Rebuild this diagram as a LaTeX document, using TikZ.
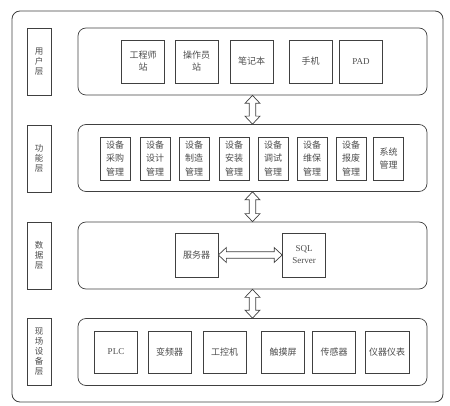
\documentclass[tikz,border=0pt]{standalone}
\usepackage{fontspec}
\setmainfont{Liberation Serif}
\newfontfamily\cjk{Noto Sans CJK SC}
\usetikzlibrary{calc}
\tikzset{
  frame/.style={draw=black!75, line width=0.8pt, rounded corners=8pt},
  layer/.style={draw=black!75, line width=0.7pt, rounded corners=8pt, minimum width=349pt, minimum height=67pt},
  tag/.style={draw=black!75, line width=0.7pt, minimum width=24pt, minimum height=67pt, inner sep=0pt,
    align=center, text=black!70, font=\cjk\fontsize{8.5}{10}\selectfont},
  item/.style={draw=black!75, line width=0.7pt, minimum width=43pt, minimum height=43pt, inner sep=1pt,
    align=center, text=black!70, font=\cjk\fontsize{9}{12}\selectfont},
  fitem/.style={item, minimum width=30pt, font=\cjk\fontsize{9}{13.5}\selectfont},
  fatlink/.style={draw=black!75, fill=white, line width=0.7pt, line join=miter}
}
% hollow two-headed arrow from #1 to #2
\newcommand{\fatlink}[2]{%
  \draw[fatlink] let \p1=(#1), \p2=(#2), \n1={atan2(\y2-\y1,\x2-\x1)}, \n2={veclen(\x2-\x1,\y2-\y1)} in
    [shift={(\x1,\y1)}, rotate=\n1]
    (0pt,0pt) -- (8pt,7.5pt) -- (8pt,3.2pt) -- (\n2-8pt,3.2pt) -- (\n2-8pt,7.5pt) -- (\n2,0pt)
    -- (\n2-8pt,-7.5pt) -- (\n2-8pt,-3.2pt) -- (8pt,-3.2pt) -- (8pt,-7.5pt) -- cycle;}
\begin{document}
\begin{tikzpicture}[x=1pt,y=-1pt]
  \useasboundingbox (0,0) rectangle (450,406);
  % outer frame
  \draw[frame] (12,11) rectangle (443,402);
  % layer tags
  \node[tag] (t1) at (39,61.5) {用\\户\\层};
  \node[tag] (t2) at (39,158.5) {功\\能\\层};
  \node[tag] (t3) at (39,255.5) {数\\据\\层};
  \node[tag] (t4) at (39,351.5) {现\\场\\设\\备\\层};
  % layer panels
  \node[layer] (u) at (252.5,61.5) {};
  \node[layer] (f) at (252.5,158) {};
  \node[layer] (d) at (252.5,255.5) {};
  \node[layer] (s) at (252.5,352) {};
  % user layer
  \node[item] (u1) at (143,61.5) {工程师\\站};
  \node[item] (u2) at (196.5,61.5) {操作员\\站};
  \node[item] (u3) at (251.5,61.5) {笔记本};
  \node[item] (u4) at (310.5,61.5) {手机};
  \node[item] (u5) at (361,61.5) {\rmfamily PAD};
  % function layer
  \node[fitem] (f1) at (115,158.5) {设备\\采购\\管理};
  \node[fitem] (f2) at (155,158.5) {设备\\设计\\管理};
  \node[fitem] (f3) at (194,158.5) {设备\\制造\\管理};
  \node[fitem] (f4) at (234,158.5) {设备\\安装\\管理};
  \node[fitem] (f5) at (273,158.5) {设备\\调试\\管理};
  \node[fitem] (f6) at (312,158.5) {设备\\维保\\管理};
  \node[fitem] (f7) at (351,158.5) {设备\\报废\\管理};
  \node[fitem] (f8) at (388.5,158.5) {系统\\管理};
  % data layer
  \node[item, minimum height=44pt] (srv) at (196.5,255) {服务器};
  \node[item, minimum height=44pt] (sql) at (304,255) {\rmfamily SQL\\\rmfamily Server};
  % field layer
  \node[item, minimum height=42pt] (s1) at (116,352) {\rmfamily PLC};
  \node[item, minimum height=42pt] (s2) at (169.5,352) {变频器};
  \node[item, minimum height=42pt] (s3) at (224.5,352) {工控机};
  \node[item, minimum height=42pt] (s4) at (283,352) {触摸屏};
  \node[item, minimum height=42pt] (s5) at (334,352) {传感器};
  \node[item, minimum height=42pt, minimum width=44pt] (s6) at (387,352) {仪器仪表};
  % links
  \fatlink{u.south}{f.north}
  \fatlink{f.south}{d.north}
  \fatlink{d.south}{s.north}
  \fatlink{srv.east}{sql.west}
\end{tikzpicture}
\end{document}
